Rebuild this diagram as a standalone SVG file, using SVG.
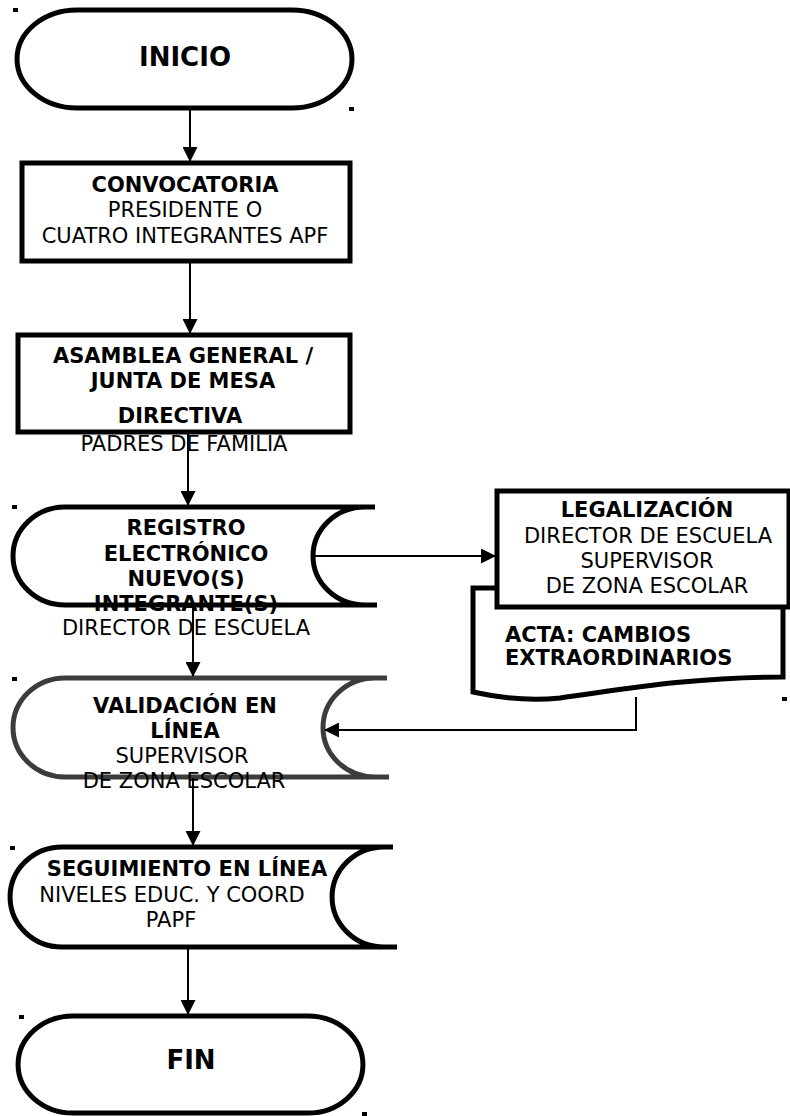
<svg xmlns="http://www.w3.org/2000/svg" width="790" height="1116" viewBox="0 0 790 1116">
<style>
.shape{fill:#fff;stroke:#000;stroke-width:5}
.t{font-family:"DejaVu Sans","Liberation Sans",sans-serif;font-size:21px;fill:#000;text-anchor:middle}
.s{text-anchor:start}
.b{font-weight:bold}
.big{font-size:26px}
.conn{fill:none;stroke:#000;stroke-width:2}
.mark{fill:#000}
</style>
<defs>
<marker id="ah" markerWidth="15" markerHeight="15" refX="14" refY="7.5" orient="auto" markerUnits="userSpaceOnUse">
<path d="M0,0 L15,7.5 L0,15 Z" fill="#000"/>
</marker>
</defs>

<g id="marks">
<rect class="mark" x="13" y="8" width="5" height="4"/>
<rect class="mark" x="349" y="107" width="5" height="4"/>
<rect class="mark" x="12" y="505" width="5" height="4"/>
<rect class="mark" x="12" y="677" width="5" height="4"/>
<rect class="mark" x="782" y="697" width="5" height="4"/>
<rect class="mark" x="10" y="846" width="5" height="4"/>
<rect class="mark" x="19" y="1015" width="5" height="4"/>
<rect class="mark" x="362" y="1112" width="5" height="4"/>
</g>

<g id="inicio">
<path class="shape" d="M77,10 H292 A60,49 0 0 1 292,108 H77 A60,49 0 0 1 77,10 Z"/>
<text class="t b big" x="185" y="65.5">INICIO</text>
</g>

<g id="convocatoria">
<rect class="shape" x="22" y="163" width="328" height="98"/>
<text class="t b" x="185" y="192">CONVOCATORIA</text>
<text class="t" x="185" y="217">PRESIDENTE O</text>
<text class="t" x="185" y="243">CUATRO INTEGRANTES APF</text>
</g>

<g id="asamblea">
<rect class="shape" x="18" y="335" width="332" height="97"/>
<text class="t b" x="183" y="363">ASAMBLEA GENERAL /</text>
<text class="t b" x="183" y="388">JUNTA DE MESA</text>
<text class="t b" x="180" y="423">DIRECTIVA</text>
<text class="t" x="184" y="451">PADRES DE FAMILIA</text>
</g>

<g id="registro">
<path d="M65,507 H365 A52,49 0 0 0 365,605 H65 A52,49 0 0 1 65,507 Z" fill="#fff"/>
<path d="M375,507 H65 A52,49 0 0 0 65,605 H377 M365,507 A52,49 0 0 0 365,605" fill="none" stroke="#000" stroke-width="5"/>
<text class="t b" x="186" y="535">REGISTRO</text>
<text class="t b" x="186" y="561">ELECTRÓNICO</text>
<text class="t b" x="186" y="586">NUEVO(S)</text>
<text class="t b" x="186" y="611">INTEGRANTE(S)</text>
<text class="t" x="186" y="635">DIRECTOR DE ESCUELA</text>
</g>

<g id="acta">
<path class="shape" d="M473,588 H783 V677 C690,677 620,690 560,698 C530,701 500,698 473,692 Z"/>
<text class="t b s" x="505" y="642">ACTA: CAMBIOS</text>
<text class="t b s" x="505" y="665">EXTRAORDINARIOS</text>
</g>

<g id="legalizacion">
<rect class="shape" x="497" y="491" width="292" height="116"/>
<text class="t b" x="647" y="517">LEGALIZACIÓN</text>
<text class="t" x="648" y="543">DIRECTOR DE ESCUELA</text>
<text class="t" x="647" y="568">SUPERVISOR</text>
<text class="t" x="647" y="593">DE ZONA ESCOLAR</text>
</g>

<g id="validacion">
<path d="M65,678 H375 A52,49.5 0 0 0 375,777 H65 A52,49.5 0 0 1 65,678 Z" fill="#fff"/>
<path d="M387,678 H65 A52,49.5 0 0 0 65,777 H389 M375,678 A52,49.5 0 0 0 375,777" fill="none" stroke="#3c3c3c" stroke-width="5"/>
<text class="t b" x="185" y="713">VALIDACIÓN EN</text>
<text class="t b" x="185" y="738">LÍNEA</text>
<text class="t" x="182" y="763">SUPERVISOR</text>
<text class="t" x="184" y="788">DE ZONA ESCOLAR</text>
</g>

<g id="seguimiento">
<path d="M62,847 H384 A52,50 0 0 0 384,947 H62 A52,50 0 0 1 62,847 Z" fill="#fff"/>
<path d="M393,847 H62 A52,50 0 0 0 62,947 H397 M384,847 A52,50 0 0 0 384,947" fill="none" stroke="#000" stroke-width="5"/>
<text class="t b" x="187" y="876">SEGUIMIENTO EN LÍNEA</text>
<text class="t" x="172" y="902">NIVELES EDUC. Y COORD</text>
<text class="t" x="171" y="927">PAPF</text>
</g>

<g id="fin">
<path class="shape" d="M73,1016 H308 A55,48.5 0 0 1 308,1113 H73 A55,48.5 0 0 1 73,1016 Z"/>
<text class="t b big" x="191" y="1069">FIN</text>
</g>

<g id="connectors">
<path class="conn" d="M190,108 V161" marker-end="url(#ah)"/>
<path class="conn" d="M190,262 V333" marker-end="url(#ah)"/>
<path class="conn" d="M188,433 V505" marker-end="url(#ah)"/>
<path class="conn" d="M313,556 H495" marker-end="url(#ah)"/>
<path class="conn" d="M193,606 V676" marker-end="url(#ah)"/>
<path class="conn" d="M636,697 V730 H325" marker-end="url(#ah)"/>
<path class="conn" d="M193,778 V845" marker-end="url(#ah)"/>
<path class="conn" d="M188,948 V1014" marker-end="url(#ah)"/>
</g>
</svg>
